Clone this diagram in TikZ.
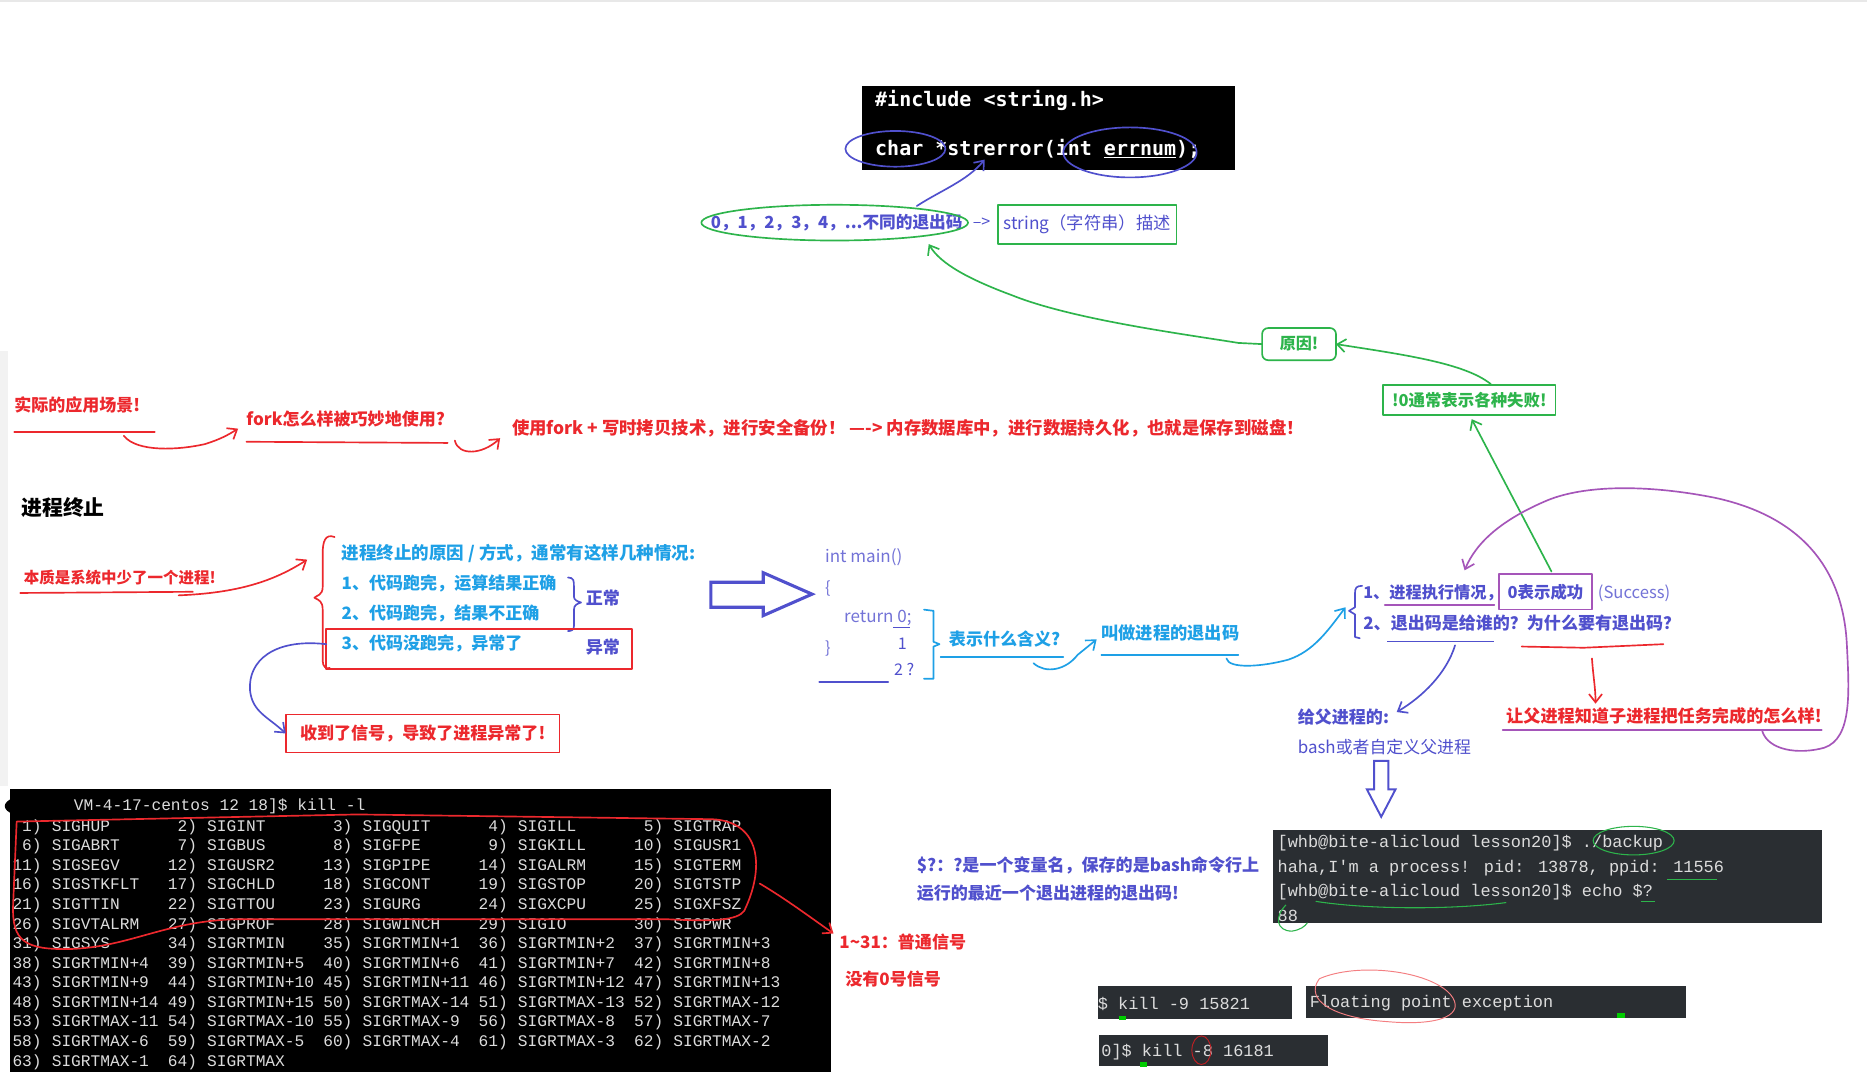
\documentclass[tikz,border=0pt]{standalone}
\usepackage{fontspec}
\setmainfont{Noto Sans CJK SC}
\newfontfamily\termfont{Liberation Mono}
\newfontfamily\codefont{DejaVu Sans Mono}
\usetikzlibrary{arrows.meta,calc}
\definecolor{hred}{RGB}{236,40,45}
\definecolor{hcyan}{RGB}{30,160,230}
\definecolor{hblue}{RGB}{80,80,205}
\definecolor{hlblue}{RGB}{115,115,215}
\definecolor{hgreen}{RGB}{45,180,75}
\definecolor{hpurple}{RGB}{165,85,185}
\definecolor{termbg}{RGB}{42,46,50}
\definecolor{termfg}{RGB}{220,220,220}
\tikzset{
  every node/.style={inner sep=0pt, outer sep=0pt},
  zh/.style={anchor=west, font=\fontsize{14.3}{16}\selectfont\bfseries},
  zhs/.style={anchor=west, font=\fontsize{13.5}{15}\selectfont},
  pen/.style={line width=1.4pt, line cap=round, line join=round},
  barb/.style={-{Straight Barb[length=7pt,width=11pt,line width=1.4pt]}},
  term/.style={anchor=base west, text=termfg, font=\termfont\fontsize{13.6}{16}\selectfont},
  termr/.style={anchor=base east, text=termfg, font=\termfont\fontsize{13.6}{16}\selectfont},
  bterm/.style={anchor=base west, text=termfg, font=\termfont\fontsize{14.2}{16}\selectfont},
  codet/.style={anchor=west, text=white, font=\codefont\bfseries\fontsize{16.8}{18}\selectfont},
}
\begin{document}
\begin{tikzpicture}[x=1pt,y=-1pt]
\useasboundingbox (0,0) rectangle (1568,910);
\fill[white] (0,0) rectangle (1568,910);
\fill[gray!18] (0,0) rectangle (1568,2);
\fill[gray!10] (0,295) rectangle (7,660);

% ---------- top code box ----------
\node[fill=black, minimum width=313pt, minimum height=71pt, anchor=north west] (code) at (724,72) {};
\node[codet] (inc) at (735,84) {\#include <string.h>};
\node[codet] (proto) at (735,125) {char *strerror(int \underline{errnum});};
\draw[hblue, pen] (752,125) ellipse [x radius=42pt, y radius=15pt];
\draw[hblue, pen] (949,128) ellipse [x radius=56pt, y radius=21pt];

\node[zh, text=hblue, font=\fontsize{14}{15}\selectfont\bfseries] (codes) at (597,187) {0，1，2，3，4，...不同的退出码};
\draw[hgreen, pen] (701,187) ellipse [x radius=112pt, y radius=15pt];
\node[zhs, text=hblue] (dash) at (817,187) {-->};
\node[draw=hgreen, pen, minimum width=150pt, minimum height=33pt, anchor=north west] (strbox) at (838,172) {};
\node[zhs, text=hblue, font=\fontsize{14.5}{16}\selectfont] (strtxt) at (843,188) {string（字符串）描述};
\draw[hblue, pen, barb] (770,173) .. controls (790,160) and (812,152) .. (827,134);

% ---------- green reason chain ----------
\node[draw=hgreen, pen, rounded corners=5pt, minimum width=62pt, minimum height=27pt, text=hgreen, font=\fontsize{13.5}{15}\selectfont\bfseries] (reason) at (1091,289) {原因!};
\node[draw=hgreen, pen, minimum width=145pt, minimum height=25pt, text=hgreen, font=\fontsize{13.8}{15}\selectfont\bfseries] (fail) at (1234,336) {!0通常表示各种失败!};
\draw[hgreen, pen, barb] (reason.west) -- (1040,288) .. controls (990,280) and (900,268) .. (850,248) .. controls (815,235) and (790,222) .. (780,205);
\draw[hgreen, pen, barb] (fail.north) ++(18,-1) .. controls (1230,305) and (1180,298) .. (reason.east);

% ---------- red fork row ----------
\node[zh, text=hred] (scene) at (12,340) {实际的应用场景!};
\draw[hred, pen] (12,363) -- (130,363);
\draw[hred, pen, barb] (104,366) .. controls (115,380) and (150,378) .. (172,373) .. controls (185,369) and (192,365) .. (200,360);
\node[zh, text=hred] (fork) at (207,352) {fork怎么样被巧妙地使用?};
\draw[hred, pen] (207,371) -- (376,372);
\draw[hred, pen, barb] (382,370) .. controls (385,383) and (405,382) .. (420,368);
\node[zh, text=hred, font=\fontsize{14.6}{16}\selectfont\bfseries] (backup) at (430,360) {使用fork + 写时拷贝技术，进行安全备份！ ----> 内存数据库中，进行数据持久化，也就是保存到磁盘！};

% ---------- process termination ----------
\node[zh, text=black, font=\fontsize{17.5}{19}\selectfont\bfseries] (title) at (18,426) {进程终止};
\node[zh, text=hred, font=\fontsize{13}{15}\selectfont\bfseries] (essence) at (20,485) {本质是系统中少了一个进程!};
\draw[hred, pen] (17,498) -- (162,497);
\draw[hred, pen, barb] (150,500) .. controls (200,498) and (230,488) .. (258,470);
\draw[hred, pen] (281,451) .. controls (273,448) and (271,455) .. (271,465) -- (271,493) .. controls (271,500) and (266,500) .. (264,502) .. controls (268,504) and (271,505) .. (271,512) -- (271,555) .. controls (271,560) and (274,562) .. (277,561);

\node[zh, text=hcyan, font=\fontsize{14.7}{16}\selectfont\bfseries] (why) at (287,465) {进程终止的原因 / 方式，通常有这样几种情况:};
\node[zh, text=hcyan] (c1) at (287,490) {1、代码跑完，运算结果正确};
\node[zh, text=hcyan] (c2) at (287,515) {2、代码跑完，结果不正确};
\node[zh, text=hcyan] (c3) at (287,540) {3、代码没跑完，异常了};
\draw[hblue, pen] (477,485) .. controls (482,485) and (482,488) .. (482,492) -- (482,501) .. controls (482,504) and (485,505) .. (488,506) .. controls (485,507) and (482,508) .. (482,512) -- (482,526) .. controls (482,529) and (480,530) .. (477,530);
\node[zh, text=hblue] (normal) at (492,502) {正常};
\node[zh, text=hblue] (abnormal) at (492,543) {异常};
\node[draw=hred, pen, minimum width=257pt, minimum height=34pt, anchor=north west] (abbox) at (274,528) {};
\node[draw=hred, pen, minimum width=230pt, minimum height=32pt, text=hred, font=\fontsize{14.3}{16}\selectfont\bfseries] (signal) at (355,616) {收到了信号，导致了进程异常了!};
\draw[hblue, pen, barb] (abbox.west) ++(0,-4) .. controls (230,536) and (208,555) .. (210,580) .. controls (212,598) and (225,602) .. (signal.west);

% ---------- hollow arrow and main ----------
\draw[hblue, line width=2.6pt, line join=miter] (597,489) -- (641,489) -- (641,481) -- (682,499) -- (641,517) -- (641,510) -- (597,510) -- cycle;
\node[zhs, text=hlblue, font=\fontsize{14.3}{16}\selectfont] (m1) at (693,468) {int main()};
\node[zhs, text=hlblue] (m2) at (693,494) {\{};
\node[zhs, text=hlblue, font=\fontsize{14.3}{16}\selectfont] (m3) at (709,519) {return 0;};
\node[zhs, text=hlblue] (m4) at (693,545) {\}};
\node[zhs, text=hblue] (m5) at (754,541) {1};
\node[zhs, text=hblue] (m6) at (751,562) {2 ?};
\draw[hblue, line width=1pt] (750,527) -- (764,527);
\draw[hblue, pen] (688,573) -- (746,573);
\draw[hcyan, pen] (776,512) -- (784,513) -- (784,539) -- (789,541) -- (784,543) -- (784,570) -- (776,570);
\node[zh, text=hcyan] (mean) at (797,537) {表示什么含义?};
\draw[hcyan, pen] (790,552) -- (893,552);
\draw[hcyan, pen, barb] (868,557) .. controls (878,566) and (895,563) .. (905,550) -- (921,537);
\node[zh, text=hcyan, font=\fontsize{14.5}{16}\selectfont\bfseries] (ecode) at (925,532) {叫做进程的退出码};
\draw[hcyan, pen] (925,550) -- (1040,550);
\draw[hcyan, pen, barb] (1030,553) .. controls (1032,562) and (1060,560) .. (1082,554) .. controls (1103,547) and (1115,530) .. (1130,510);

% ---------- exit code meaning ----------
\draw[hblue, pen] (1144,492) .. controls (1139,492) and (1138,494) .. (1138,498) -- (1138,510) -- (1133,513) -- (1138,516) -- (1138,535) -- (1142,536);
\node[zh, text=hblue, font=\fontsize{13.6}{16}\selectfont\bfseries] (e1) at (1145,498) {1、进程执行情况，};
\node[draw=hpurple, pen, minimum width=78pt, minimum height=30pt, text=hblue, font=\fontsize{13.8}{15}\selectfont\bfseries] (succ) at (1298,497) {0表示成功};
\node[zhs, text=hlblue, font=\fontsize{14}{16}\selectfont] (succen) at (1342,498) {(Success)};
\node[zh, text=hblue] (e2) at (1145,523) {2、退出码是给谁的？为什么要有退出码？};
\draw[hpurple, pen] (1163,508) -- (1255,508);
\draw[hblue, line width=1pt] (1165,539) -- (1255,539);
\draw[hred, pen] (1278,543) -- (1330,544) -- (1397,541);
\draw[hgreen, pen, barb] (succ.north) ++(5,-2) -- (1236,352);

\draw[hblue, pen, barb] (1222,542) .. controls (1215,565) and (1195,585) .. (1173,598);
\node[zh, text=hblue] (parent) at (1090,602) {给父进程的:};
\node[zhs, text=hblue, font=\fontsize{14.2}{16}\selectfont] (bash) at (1090,627) {bash或者自定义父进程};
\draw[hblue, line width=1.6pt, line join=miter] (1154,639) -- (1166,639) -- (1166,663) -- (1172,663) -- (1160,686) -- (1148,663) -- (1154,663) -- cycle;

\draw[hred, pen, barb] (1337,553) .. controls (1338,568) and (1340,578) .. (1340,591);
\node[zh, text=hred, font=\fontsize{14.4}{16}\selectfont\bfseries] (tell) at (1265,601) {让父进程知道子进程把任务完成的怎么样!};
\draw[hpurple, pen] (1262,613) -- (1530,613);
\draw[hpurple, pen, barb] (1480,614) .. controls (1485,630) and (1510,634) .. (1532,628) .. controls (1556,620) and (1553,580) .. (1551,540) .. controls (1547,470) and (1505,432) .. (1440,418) .. controls (1390,408) and (1335,406) .. (1300,420) .. controls (1262,436) and (1240,455) .. (1230,479);

% ---------- kill -l terminal ----------
\node[fill=black, minimum width=690pt, minimum height=237pt, anchor=north west] (killterm) at (8,663) {};
\fill[black] (30,677) ellipse [x radius=26pt, y radius=10pt];
\node[term] (hdr) at (62,681) {VM-4-17-centos 12 18]\$ kill -l};
\foreach \n/\s [count=\i from 0] in {1/SIGHUP,2/SIGINT,3/SIGQUIT,4/SIGILL,5/SIGTRAP,6/SIGABRT,7/SIGBUS,8/SIGFPE,9/SIGKILL,10/SIGUSR1,11/SIGSEGV,12/SIGUSR2,13/SIGPIPE,14/SIGALRM,15/SIGTERM,16/SIGSTKFLT,17/SIGCHLD,18/SIGCONT,19/SIGSTOP,20/SIGTSTP,21/SIGTTIN,22/SIGTTOU,23/SIGURG,24/SIGXCPU,25/SIGXFSZ,26/SIGVTALRM,27/SIGPROF,28/SIGWINCH,29/SIGIO,30/SIGPWR,31/SIGSYS,34/SIGRTMIN,35/SIGRTMIN+1,36/SIGRTMIN+2,37/SIGRTMIN+3,38/SIGRTMIN+4,39/SIGRTMIN+5,40/SIGRTMIN+6,41/SIGRTMIN+7,42/SIGRTMIN+8,43/SIGRTMIN+9,44/SIGRTMIN+10,45/SIGRTMIN+11,46/SIGRTMIN+12,47/SIGRTMIN+13,48/SIGRTMIN+14,49/SIGRTMIN+15,50/SIGRTMAX-14,51/SIGRTMAX-13,52/SIGRTMAX-12,53/SIGRTMAX-11,54/SIGRTMAX-10,55/SIGRTMAX-9,56/SIGRTMAX-8,57/SIGRTMAX-7,58/SIGRTMAX-6,59/SIGRTMAX-5,60/SIGRTMAX-4,61/SIGRTMAX-3,62/SIGRTMAX-2,63/SIGRTMAX-1,64/SIGRTMAX}{
  \pgfmathtruncatemacro\r{floor(\i/5)}
  \pgfmathtruncatemacro\c{mod(\i,5)}
  \node[termr] (num\n) at ({35+\c*130.5},{698+\r*16.45}) {\n)};
  \node[term] (sig\n) at ({43.5+\c*130.5},{698+\r*16.45}) {\s};
}
\draw[hred, pen] (14,690) -- (300,684) -- (598,688) .. controls (640,690) and (642,730) .. (625,765) .. controls (619,773) and (600,774) .. (560,772) -- (200,772) .. controls (140,773) and (110,795) .. (60,797) .. controls (20,798) and (10,790) .. (11,760) -- cycle;
\draw[hred, pen, barb] (638,742) .. controls (660,755) and (680,770) .. (700,784);
\node[zh, text=hred] (normalsig) at (705,791) {1\textasciitilde31：普通信号};
\node[zh, text=hred] (nozero) at (710,822) {没有0号信号};

% ---------- $? explanation and terminal ----------
\node[zh, text=hblue] (qm1) at (770,727) {\$?：?是一个变量名，保存的是bash命令行上};
\node[zh, text=hblue] (qm2) at (770,750) {运行的最近一个退出进程的退出码!};
\node[fill=termbg, minimum width=461pt, minimum height=78pt, anchor=north west] (bt) at (1069,697) {};
\node[bterm] (b1) at (1073,712) {[whb@bite-alicloud lesson20]\$ ./backup};
\node[bterm] (b2) at (1073,733) {haha,I'm a process! pid: 13878, ppid: 11556};
\node[bterm] (b3) at (1073,753) {[whb@bite-alicloud lesson20]\$ echo \$?};
\node[bterm] (b4) at (1073,774) {88};
\draw[hgreen, line width=0.9pt] (1372,706) ellipse [x radius=34pt, y radius=12pt];
\draw[hgreen, line width=0.9pt] (1400,739) -- (1442,739);
\draw[hgreen, line width=0.9pt] (1105,757) .. controls (1150,764) and (1220,764) .. (1265,758);
\draw[hgreen, line width=0.9pt] (1378,757) -- (1390,757);
\draw[hgreen, line width=0.9pt] (1080,760) .. controls (1070,770) and (1072,782) .. (1085,782) .. controls (1092,781) and (1096,778) .. (1098,775);

\node[fill=termbg, minimum width=163pt, minimum height=28pt, anchor=north west] (k9) at (922,828) {};
\node[bterm] (k9t) at (922,848) {\$ kill -9 15821};
\fill[green!80!black] (940,853) rectangle (946,857);
\node[fill=termbg, minimum width=319pt, minimum height=27pt, anchor=north west] (fpe) at (1097,828) {};
\node[bterm] (fpet) at (1100,846) {Floating point exception};
\fill[green!80!black] (1358,851) rectangle (1365,855);
\draw[hred!60, line width=0.8pt] (1108,822) .. controls (1140,808) and (1200,815) .. (1218,835) .. controls (1232,852) and (1210,862) .. (1165,858) .. controls (1120,855) and (1095,840) .. (1108,822);
\node[fill=termbg, minimum width=192pt, minimum height=26pt, anchor=north west] (k8) at (923,869) {};
\node[bterm] (k8t) at (925,887) {0]\$ kill -8 16181};
\fill[green!80!black] (957,892) rectangle (963,896);
\draw[hred!80!black, line width=0.8pt] (1009,882) ellipse [x radius=8pt, y radius=12pt];
\end{tikzpicture}
\end{document}
